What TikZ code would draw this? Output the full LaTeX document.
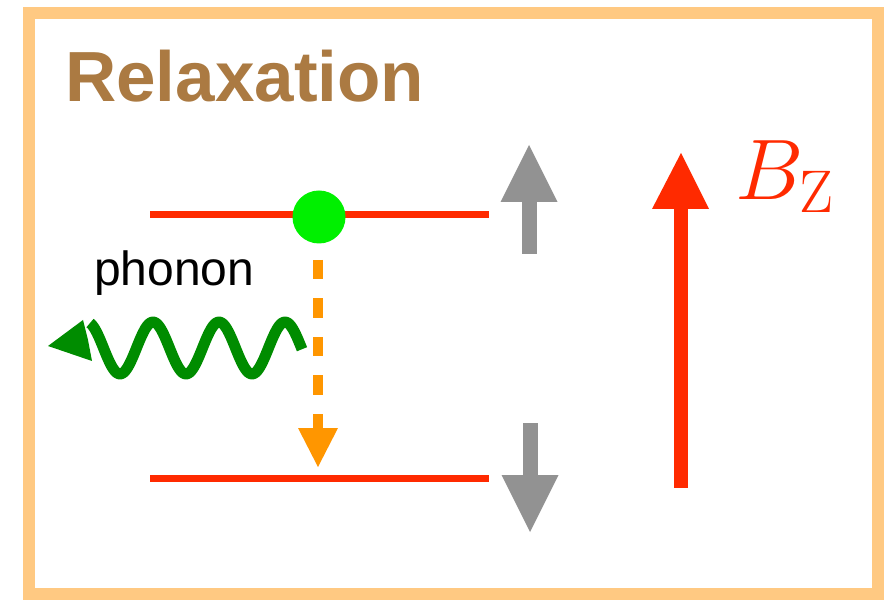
\documentclass[tikz,border=0pt]{standalone}
\usepackage{fix-cm}
\usepackage[no-math]{fontspec}
\setmainfont{Liberation Sans}
\definecolor{framec}{RGB}{255,201,130}
\definecolor{titlec}{RGB}{171,122,66}
\definecolor{levelc}{RGB}{255,42,0}
\definecolor{dotc}{RGB}{0,240,0}
\definecolor{orangec}{RGB}{255,150,0}
\definecolor{grayc}{RGB}{146,146,146}
\definecolor{wavec}{RGB}{0,140,0}
\begin{document}
\begin{tikzpicture}[x=1pt,y=-1pt,
  level/.style={draw=levelc, line width=7},
  spinarrow/.style={fill=grayc},
  txt/.style={inner sep=0pt, anchor=base west}]
\useasboundingbox (0,0) rectangle (894,601);
\fill[white] (0,0) rectangle (894,601);
% frame
\draw[framec, line width=12] (29,13) rectangle (878,594);
% title
\node[txt, text=titlec, font=\bfseries\fontsize{71}{71}\selectfont] (title) at (65,102) {Relaxation};
% energy levels
\coordinate (upL) at (150,215); \coordinate (upR) at (489,215);
\coordinate (loL) at (150,478); \coordinate (loR) at (489,478);
\draw[level] (upL) -- (upR);
\draw[level] (loL) -- (loR);
% electron
\node[circle, fill=dotc, minimum size=53, inner sep=0pt] (dot) at (319,217) {};
% dashed relaxation arrow
\coordinate (dashS) at (318,260);
\coordinate (dashE) at (318,428);
\draw[orangec, line width=10, dash pattern=on 19.5 off 19] (dashS) -- (dashE);
\fill[orangec] (298,428) -- (338,428) -- (318,467) -- cycle;
% phonon label
\node[txt, font=\fontsize{48}{48}\selectfont] (phonon) at (94,286) {phonon};
% phonon wave
\draw[wavec, line width=11, line cap=butt, line join=round, smooth, samples=120, domain=302:90]
  plot (\x, {348-26*cos((\x-285)/66*360)});
\fill[wavec] (83,320) -- (48,346) -- (92,361) -- (88,340) -- cycle;
% spin arrows
\fill[spinarrow] (521.5,254) rectangle (536.5,201);
\fill[spinarrow] (500.5,202) -- (557.5,202) -- (529,145) -- cycle;
\fill[spinarrow] (522.5,423) rectangle (537.5,476);
\fill[spinarrow] (501.5,475) -- (558.5,475) -- (530,532) -- cycle;
% magnetic field arrow
\fill[levelc] (674,488) rectangle (688,207);
\fill[levelc] (652,209) -- (709,209) -- (681,153) -- cycle;
\node[txt, text=levelc, font=\fontsize{86}{86}\selectfont] (bz) at (735,200) {$B_{\mathrm{Z}}$};
\end{tikzpicture}
\end{document}
